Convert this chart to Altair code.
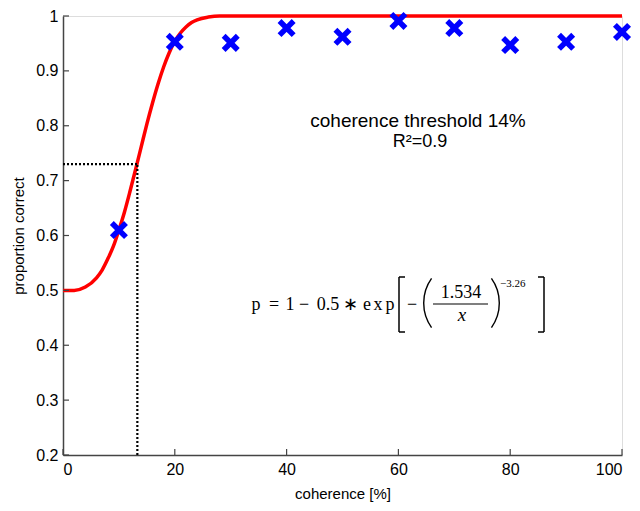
import altair as alt
import pandas as pd

# ---- data ----
coherence = [10, 20, 30, 40, 50, 60, 70, 80, 90, 100]
proportion = [0.610, 0.953, 0.951, 0.978, 0.962, 0.991, 0.978, 0.947, 0.953, 0.971]

curve_x = [0, 2, 4, 6, 7, 8, 9, 10, 11, 12, 13, 14, 15, 16, 17, 18, 19, 20,
           21, 22, 23, 24, 26, 28, 30, 40, 60, 80, 100]
curve_y = [0.500, 0.500, 0.506, 0.523, 0.537, 0.557, 0.580, 0.610, 0.643, 0.681,
           0.721, 0.762, 0.803, 0.841, 0.876, 0.907, 0.933, 0.954, 0.969, 0.980,
           0.988, 0.993, 0.998, 1.000, 1.000, 1.000, 1.000, 1.000, 1.000]

threshold_x = 13.3
threshold_y = 0.73

x_ticks = [0, 20, 40, 60, 80, 100]
y_ticks = [0.2, 0.3, 0.4, 0.5, 0.6, 0.7, 0.8, 0.9, 1.0]

W, H = 559, 439
xs = alt.Scale(domain=[0, 100], nice=False, zero=False)
ys = alt.Scale(domain=[0.2, 1.0], nice=False, zero=False)

SANS = "Liberation Sans"
SERIF = "Liberation Serif"

pts = pd.DataFrame({"x": coherence, "y": proportion})
crv = pd.DataFrame({"x": curve_x, "y": curve_y})
thr = pd.DataFrame({
    "x": [0, threshold_x], "x2": [threshold_x, threshold_x],
    "y": [threshold_y, 0.2], "y2": [threshold_y, threshold_y],
})
xt = pd.DataFrame({"v": x_ticks})
yt = pd.DataFrame({"v": y_ticks})
one = pd.DataFrame({"a": [0]})

curve = alt.Chart(crv).mark_line(color="#ff0000", strokeWidth=3.5, interpolate="monotone").encode(
    x=alt.X("x:Q", scale=xs, axis=alt.Axis(
        values=x_ticks, title="coherence [%]", ticks=False, grid=False,
        labelFont=SANS, labelFontSize=16, labelColor="black", labelPadding=6,
        titleFont=SANS, titleFontSize=15, titleFontWeight="normal", titleColor="black",
        titlePadding=9, domainColor="#444444", domainWidth=1.5)),
    y=alt.Y("y:Q", scale=ys, axis=alt.Axis(
        values=y_ticks, format=".1~f", title="proportion correct", ticks=False, grid=False,
        labelFont=SANS, labelFontSize=16, labelColor="black", labelPadding=5,
        titleFont=SANS, titleFontSize=15, titleFontWeight="normal", titleColor="black",
        titlePadding=9, domainColor="#444444", domainWidth=1.5)),
)

points = alt.Chart(pts).mark_point(
    shape="M -1 -1 L 1 1 M 1 -1 L -1 1", size=200, filled=False,
    stroke="#0000ff", strokeWidth=5.5, opacity=1,
).encode(x=alt.X("x:Q", scale=xs), y=alt.Y("y:Q", scale=ys))

dotted = alt.Chart(thr).mark_rule(color="black", strokeWidth=2.2, strokeDash=[2, 2]).encode(
    x=alt.X("x:Q", scale=xs), x2="x2:Q", y=alt.Y("y:Q", scale=ys), y2="y2:Q")

xtick = alt.Chart(xt).mark_rule(color="#444444", strokeWidth=1.2).encode(
    x=alt.X("v:Q", scale=xs), y=alt.value(H), y2=alt.value(H - 6))
ytick = alt.Chart(yt).mark_rule(color="#444444", strokeWidth=1.2).encode(
    y=alt.Y("v:Q", scale=ys), x=alt.value(0), x2=alt.value(6))


def txt(s, x, y, size, font=SANS, align="center", style="normal"):
    return alt.Chart(one).mark_text(
        font=font, fontSize=size, align=align, baseline="alphabetic",
        color="black", fontStyle=style,
    ).encode(x=alt.value(x), y=alt.value(y), text=alt.value(s))


def seg(x1, y1, x2, y2, w=1.5):
    return alt.Chart(one).mark_rule(color="black", strokeWidth=w).encode(
        x=alt.value(x1), y=alt.value(y1), x2=alt.value(x2), y2=alt.value(y2))


def paren(cx, cy, t1, t2):
    return alt.Chart(one).mark_arc(
        radius=43, radius2=41.6, theta=t1, theta2=t2, color="black"
    ).encode(x=alt.value(cx), y=alt.value(cy))


BASE = 294
annot = [
    txt("coherence threshold 14%", 355, 111, 19),
    txt("R²=0.9", 357, 131, 18),
    txt("p", 193, BASE, 18, SERIF),
    txt("=", 211, BASE, 18, SERIF),
    txt("1", 227, BASE, 18, SERIF),
    txt("−", 241, BASE, 18, SERIF),
    txt("0.5", 265, BASE, 18, SERIF),
    txt("∗", 287, BASE, 18, SERIF),
    txt("e", 304, BASE, 18, SERIF),
    txt("x", 315, BASE, 18, SERIF),
    txt("p", 327, BASE, 18, SERIF),
    txt("−", 349, BASE, 18, SERIF),
    paren(403, 287, 4.093, 5.332),
    txt("1.534", 398, 282, 18, SERIF),
    seg(370, 288, 425, 288, 1.2),
    txt("x", 399, 305, 19, SERIF, style="italic"),
    paren(394, 287, 0.951, 2.190),
    txt("−3.26", 437, 271, 11, SERIF, "left"),
    # left bracket
    seg(336, 261, 336, 316), seg(336, 261, 342, 261), seg(336, 316, 342, 316),
    # right bracket
    seg(481, 261, 481, 316), seg(475, 261, 481, 261), seg(475, 316, 481, 316),
]

chart = alt.layer(curve, dotted, xtick, ytick, points, *annot).properties(
    width=W, height=H,
    autosize=alt.AutoSizeParams(type="none"),
    padding={"left": 55, "top": 8, "right": 10, "bottom": 48},
).configure_view(stroke=None).configure(background="white")

chart.save("out.html", embed_options={"renderer": "svg", "actions": False})
